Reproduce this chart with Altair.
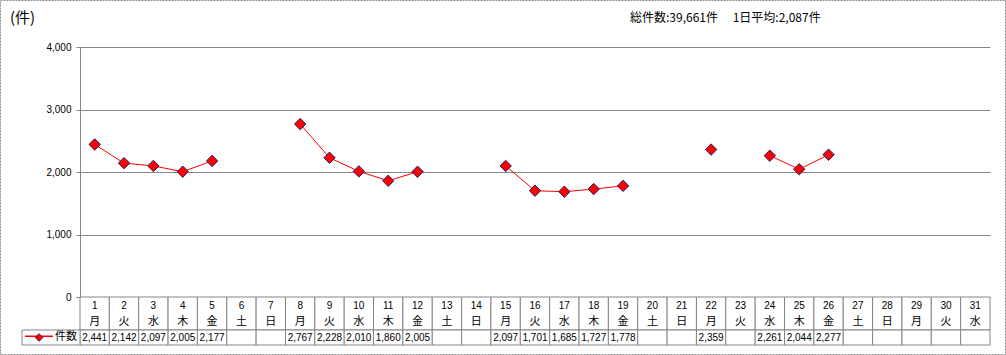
import altair as alt
import pandas as pd

days = list(range(1, 32))
weekdays = ["月", "火", "水", "木", "金", "土", "日"] * 4 + ["月", "火", "水"]
counts = [2441, 2142, 2097, 2005, 2177, None, None,
          2767, 2228, 2010, 1860, 2005, None, None,
          2097, 1701, 1685, 1727, 1778, None, None,
          2359, None, 2261, 2044, 2277, None, None,
          None, None, None]
series_name = "件数"
unit_title = "(件)"
summary_text = "総件数:39,661件　 1日平均:2,087件"
y_ticks = [0, 1000, 2000, 3000, 4000]

segs = []
seg = 0
for c in counts:
    if c is None:
        seg += 1
    segs.append(seg)
df = pd.DataFrame({"day": days, "wd": weekdays, "seg": segs})
df["count"] = [float(c) if c is not None else None for c in counts]
df["label"] = [f"{int(c):,}" if c is not None else "" for c in counts]
vals = df[[c is not None for c in counts]].copy()
one = pd.DataFrame({"k": [0]})

JP = "Noto Sans CJK JP"
GRAY = "#858585"

xs = alt.X("day:O", scale=alt.Scale(domain=days, paddingInner=0, paddingOuter=0), axis=None)
ys = alt.Y("count:Q", scale=alt.Scale(domain=[0, 4000], nice=False, zero=True),
           axis=alt.Axis(values=y_ticks, format=",d", title=None, grid=True, gridColor=GRAY,
                         domainColor=GRAY, tickColor=GRAY, tickSize=4, labelFontSize=10,
                         labelFont="Liberation Sans", labelPadding=5, labelColor="black"))

line = alt.Chart(vals).mark_line(color="#FF0000", strokeWidth=1).encode(
    x=xs, y=ys, detail="seg:N")
pts = alt.Chart(vals).mark_point(shape="diamond", filled=True, fill="#FF0000", stroke="#22226e",
                                 strokeWidth=1, size=130, opacity=1).encode(
    x=alt.X("day:O"), y=alt.Y("count:Q"))

cell_top = alt.Chart(df).mark_rect(fill="white", stroke=GRAY, strokeWidth=1).encode(
    x=alt.X("day:O"), y=alt.value(250), y2=alt.value(283))
cell_val = alt.Chart(df).mark_rect(fill="white", stroke=GRAY, strokeWidth=1).encode(
    x=alt.X("day:O"), y=alt.value(283), y2=alt.value(298))
t_day = alt.Chart(df).mark_text(font="Liberation Sans", fontSize=10, color="black").encode(
    x=alt.X("day:O"), y=alt.value(259), text="day:N")
t_wd = alt.Chart(df).mark_text(font=JP, fontSize=11, color="black").encode(
    x=alt.X("day:O"), y=alt.value(275), text="wd:N")
t_val = alt.Chart(vals).mark_text(font="Liberation Sans", fontSize=10, color="black").encode(
    x=alt.X("day:O"), y=alt.value(290.5), text="label:N")

hdr = alt.Chart(one).mark_rect(fill="white", stroke=GRAY, strokeWidth=1).encode(
    x=alt.value(-58), x2=alt.value(0), y=alt.value(283), y2=alt.value(298))
hdr_line = alt.Chart(one).mark_rect(fill="#FF0000").encode(
    x=alt.value(-55), x2=alt.value(-27), y=alt.value(288.5), y2=alt.value(290))
hdr_pt = alt.Chart(one).mark_text(font="DejaVu Sans", fontSize=10, color="#FF0000",
                                  stroke="#22226e", strokeWidth=0.6).encode(
    x=alt.value(-41), y=alt.value(289.5), text=alt.value("◆"))
hdr_txt = alt.Chart(one).mark_text(font=JP, fontSize=11, color="black", align="left").encode(
    x=alt.value(-25), y=alt.value(290), text=alt.value(series_name))
border = alt.Chart(one).mark_rect(fill="white", fillOpacity=0, stroke="#8a8a8a", strokeWidth=1,
                                  strokeDash=[2, 1]).encode(
    x=alt.value(-79.5), x2=alt.value(925.5), y=alt.value(-46.5), y2=alt.value(307.5))
title = alt.Chart(one).mark_text(font=JP, fontSize=15, color="black", align="left").encode(
    x=alt.value(-70), y=alt.value(-29), text=alt.value(unit_title))
summary = alt.Chart(one).mark_text(font=JP, fontSize=12, color="black", align="left").encode(
    x=alt.value(550), y=alt.value(-29), text=alt.value(summary_text))

chart = alt.layer(
    line, pts, cell_top, cell_val, t_day, t_wd, t_val,
    hdr, hdr_line, hdr_pt, hdr_txt, border, title, summary
).properties(
    width=910, height=250,
    autosize=alt.AutoSizeParams(type="none"),
    padding={"left": 80, "top": 47, "right": 16, "bottom": 58},
    background="white",
).configure_view(stroke=None)

chart.save("out.html", embed_options={"renderer": "svg", "actions": False})
